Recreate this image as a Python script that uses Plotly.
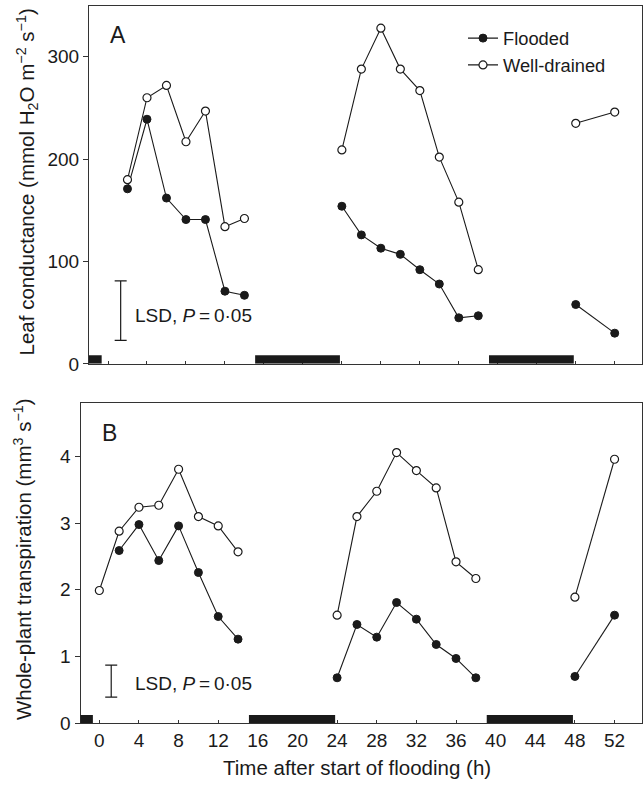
import plotly.graph_objects as go

# ---------------- data ----------------
hours_early_fl = [2, 4, 6, 8, 10, 12, 14]
hours_early_wd_a = [2, 4, 6, 8, 10, 12, 14]
hours_early_wd_b = [0, 2, 4, 6, 8, 10, 12, 14]
hours_mid = [24, 26, 28, 30, 32, 34, 36, 38]
hours_late = [48, 52]

# Panel A: leaf conductance (mmol H2O m-2 s-1)
cond_flooded_early = [171, 239, 162, 141, 141, 71, 67]
cond_flooded_mid = [154, 126, 113, 107, 92, 78, 45, 47]
cond_flooded_late = [58, 30]
cond_drained_early = [180, 260, 272, 217, 247, 134, 142]
cond_drained_mid = [209, 288, 328, 288, 267, 202, 158, 92]
cond_drained_late = [235, 246]

# Panel B: whole-plant transpiration (mm3 s-1)
trans_flooded_early = [2.59, 2.98, 2.44, 2.96, 2.26, 1.60, 1.26]
trans_flooded_mid = [0.68, 1.48, 1.29, 1.81, 1.56, 1.18, 0.97, 0.68]
trans_flooded_late = [0.70, 1.62]
trans_drained_early = [1.99, 2.88, 3.24, 3.27, 3.81, 3.10, 2.96, 2.57]
trans_drained_mid = [1.62, 3.10, 3.48, 4.06, 3.79, 3.53, 2.42, 2.17]
trans_drained_late = [1.89, 3.96]

# Night periods (h)
night_start = [-2, 15.1, 39.1]
night_end = [-0.65, 23.8, 47.8]

# LSD bars (P = 0.05)
lsd_a_low, lsd_a_high = 23, 81
lsd_b_low, lsd_b_high = 0.39, 0.87

x_ticks = list(range(0, 53, 4))
ya_ticks = [0, 100, 200, 300]
yb_ticks = [0, 1, 2, 3, 4]


def join(*segs):
    out = []
    for i, s in enumerate(segs):
        if i:
            out.append(None)
        out.extend(s)
    return out


FONT = "Liberation Sans, Arial, Helvetica, sans-serif"
INK = "#1a1a1a"
W, H = 643, 791
TICK_FS = 19
TITLE_FS = 20.5

fig = go.Figure()

mk_fl = dict(symbol="circle", size=8, color=INK, line=dict(color=INK, width=1))
mk_wd = dict(symbol="circle", size=8, color="white", line=dict(color=INK, width=1.2))
ln = dict(color=INK, width=1.1)

# Panel A
fig.add_trace(go.Scatter(
    x=join(hours_early_fl, hours_mid, hours_late),
    y=join(cond_flooded_early, cond_flooded_mid, cond_flooded_late),
    mode="lines+markers", marker=mk_fl, line=ln, name="Flooded",
    connectgaps=False, xaxis="x", yaxis="y"))
fig.add_trace(go.Scatter(
    x=join(hours_early_wd_a, hours_mid, hours_late),
    y=join(cond_drained_early, cond_drained_mid, cond_drained_late),
    mode="lines+markers", marker=mk_wd, line=ln, name="Well-drained",
    connectgaps=False, xaxis="x", yaxis="y"))

# Panel B
fig.add_trace(go.Scatter(
    x=join(hours_early_fl, hours_mid, hours_late),
    y=join(trans_flooded_early, trans_flooded_mid, trans_flooded_late),
    mode="lines+markers", marker=mk_fl, line=ln, showlegend=False,
    connectgaps=False, xaxis="x2", yaxis="y2"))
fig.add_trace(go.Scatter(
    x=join(hours_early_wd_b, hours_mid, hours_late),
    y=join(trans_drained_early, trans_drained_mid, trans_drained_late),
    mode="lines+markers", marker=mk_wd, line=ln, showlegend=False,
    connectgaps=False, xaxis="x2", yaxis="y2"))

# LSD bars
fig.add_trace(go.Scatter(
    x=[1.3], y=[(lsd_a_low + lsd_a_high) / 2], mode="markers",
    marker=dict(size=0.1, color=INK), showlegend=False,
    error_y=dict(type="constant", value=(lsd_a_high - lsd_a_low) / 2,
                 width=6, thickness=1.2, color=INK),
    xaxis="x", yaxis="y", hoverinfo="skip"))
fig.add_trace(go.Scatter(
    x=[1.2], y=[(lsd_b_low + lsd_b_high) / 2], mode="markers",
    marker=dict(size=0.1, color=INK), showlegend=False,
    error_y=dict(type="constant", value=(lsd_b_high - lsd_b_low) / 2,
                 width=6, thickness=1.2, color=INK),
    xaxis="x2", yaxis="y2", hoverinfo="skip"))

# Night bars
for s, e in zip(night_start, night_end):
    fig.add_shape(type="rect", xref="x", yref="y", x0=s, x1=e, y0=0, y1=8.5,
                  fillcolor=INK, line=dict(width=0), layer="above")
    fig.add_shape(type="rect", xref="x2", yref="y2", x0=s, x1=e, y0=0, y1=0.12,
                  fillcolor=INK, line=dict(width=0), layer="above")

axis_common = dict(showline=True, linecolor="#333", linewidth=1, mirror=True,
                   showgrid=False, zeroline=False,
                   tickfont=dict(family=FONT, size=TICK_FS, color=INK))

fig.update_layout(
    width=W, height=H,
    margin=dict(l=0, r=0, t=0, b=0),
    paper_bgcolor="white", plot_bgcolor="white",
    font=dict(family=FONT, size=TICK_FS, color=INK),
    xaxis=dict(domain=[89 / W, 642 / W], range=[-1.95, 54.8], anchor="y",
               tickvals=x_ticks, showticklabels=False, ticks="inside",
               ticklen=3, tickcolor="#333", **axis_common),
    yaxis=dict(domain=[(H - 369) / H, (H - 5.7) / H], range=[0, 350], anchor="x",
               tickvals=ya_ticks, ticks="outside", ticklen=5, tickcolor="#333",
               **axis_common),
    xaxis2=dict(domain=[80.5 / W, 642.3 / W], range=[-1.9, 54.8], anchor="y2",
                tickvals=x_ticks, ticks="inside", ticklen=3, tickcolor="#333",
                **axis_common),
    yaxis2=dict(domain=[(H - 733.3) / H, (H - 408.3) / H], range=[0, 4.81],
                anchor="x2", tickvals=yb_ticks, ticks="outside", ticklen=5,
                tickcolor="#333", **axis_common),
    legend=dict(x=463 / W, y=(H - 20) / H, xanchor="left", yanchor="top",
                bgcolor="rgba(0,0,0,0)", font=dict(family=FONT, size=18.3, color=INK),
                tracegroupgap=0, itemwidth=30),
    showlegend=True,
)

common_ann = dict(xref="paper", yref="paper", showarrow=False,
                  xanchor="center", yanchor="middle")
ann = [
    dict(text="A", x=118 / W, y=(H - 35) / H, font=dict(size=23), **common_ann),
    dict(text="B", x=109 / W, y=(H - 439) / H, font=dict(size=23), **common_ann),
    dict(text="Leaf conductance (mmol H<sub>2</sub>O m<sup>−2</sup> s<sup>−1</sup>)",
         x=27 / W, y=(H - 185) / H, textangle=-90, font=dict(size=TITLE_FS),
         **common_ann),
    dict(text="Whole-plant transpiration (mm<sup>3</sup> s<sup>−1</sup>)",
         x=23 / W, y=(H - 567) / H, textangle=-90, font=dict(size=TITLE_FS),
         **common_ann),
    dict(text="Time after start of flooding (h)", x=357 / W, y=(H - 778) / H,
         font=dict(size=TITLE_FS), **common_ann),
]
lsd_text = "LSD, <i>P</i>\u2009=\u20090·05"
for yy in (320, 693):
    a = dict(common_ann)
    a["xanchor"] = "left"
    ann.append(dict(text=lsd_text, x=133 / W, y=(H - yy) / H,
                    font=dict(size=19), **a))
fig.update_layout(annotations=ann)

fig.write_html("out.html")
